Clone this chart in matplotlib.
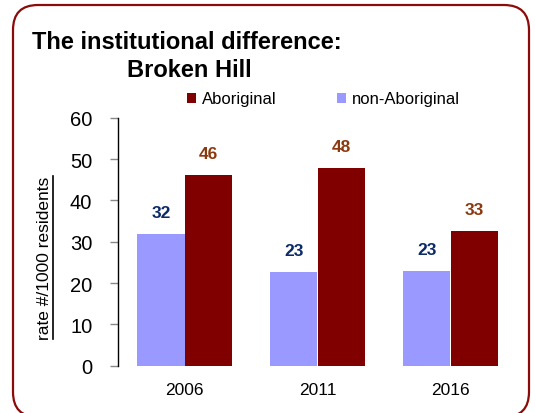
import matplotlib
matplotlib.use("Agg")
import matplotlib.pyplot as plt
import numpy as np
from matplotlib.patches import FancyBboxPatch
from matplotlib.transforms import IdentityTransform

plt.rcParams['font.family'] = ['Liberation Sans', 'DejaVu Sans']

years = ["2006", "2011", "2016"]
aboriginal = [46.2, 47.9, 32.6]
non_aboriginal = [31.9, 22.6, 22.9]
aboriginal_labels = ["46", "48", "33"]
non_aboriginal_labels = ["32", "23", "23"]
yticks = [0, 10, 20, 30, 40, 50, 60]

W, H = 535, 414
fig = plt.figure(figsize=(W / 100, H / 100), dpi=100)
fig.patch.set_facecolor("white")

# rounded border
border = FancyBboxPatch((13, H - 418), 516, 412,
                        boxstyle="round,pad=0,rounding_size=25",
                        transform=IdentityTransform(), fill=False,
                        edgecolor="#8B0A0A", linewidth=1.6, clip_on=False)
fig.patches.append(border)

ax = fig.add_axes([118 / W, 1 - 366.7 / H, 399 / W, (366.7 - 118.7) / H])
x = np.arange(len(years))
bw = 0.355
c_ab = "#800000"
c_non = "#9999FF"
b_non = ax.bar(x - bw / 2, non_aboriginal, bw, color=c_non, label="non-Aboriginal")
b_ab = ax.bar(x + bw / 2, aboriginal, bw, color=c_ab, label="Aboriginal")

for xi, v, t in zip(x, non_aboriginal, non_aboriginal_labels):
    ax.text(xi - bw / 2, v + 5.2, t, ha="center", va="center",
            fontsize=12.5, fontweight="bold", color="#0B2A66")
for xi, v, t in zip(x, aboriginal, aboriginal_labels):
    ax.text(xi + bw / 2, v + 5.2, t, ha="center", va="center",
            fontsize=12.5, fontweight="bold", color="#8B3A0F")

ax.set_xlim(-0.5, 2.5)
ax.set_ylim(0, 60)
ax.set_yticks(yticks)
ax.set_yticklabels([str(t) for t in yticks], fontsize=14.5)
ax.set_xticks(x)
ax.set_xticklabels(years, fontsize=12.5)
ax.tick_params(axis="y", direction="out", length=6, width=1, color="#888888", pad=12.5)
ax.tick_params(axis="x", length=0, pad=12)
for s in ["top", "right", "bottom"]:
    ax.spines[s].set_visible(False)
ax.spines["left"].set_color("black")
ax.spines["left"].set_linewidth(1.0)

fig.text(45 / W, 1 - 258 / H, "rate #/1000 residents", rotation=90,
         ha="center", va="center", fontsize=12.5)
fig.add_artist(plt.Line2D([53 / W, 53 / W], [1 - 177 / H, 1 - 340 / H],
                          transform=fig.transFigure, color="black", linewidth=1.2))

fig.text(32 / W, 1 - 49 / H, "The institutional difference:", ha="left",
         va="baseline", fontsize=17, fontweight="bold")
fig.text(127 / W, 1 - 77 / H, "Broken Hill", ha="left",
         va="baseline", fontsize=17, fontweight="bold")

leg = fig.legend([b_ab, b_non], ["Aboriginal", "non-Aboriginal"],
                 loc="center left", bbox_to_anchor=(187 / W, 1 - 100 / H),
                 ncol=2, frameon=False, fontsize=12, handlelength=0.55,
                 handleheight=0.55, handletextpad=0.36, columnspacing=3.6,
                 borderpad=0, borderaxespad=0)

fig.savefig("out.png", dpi=100, facecolor="white")
